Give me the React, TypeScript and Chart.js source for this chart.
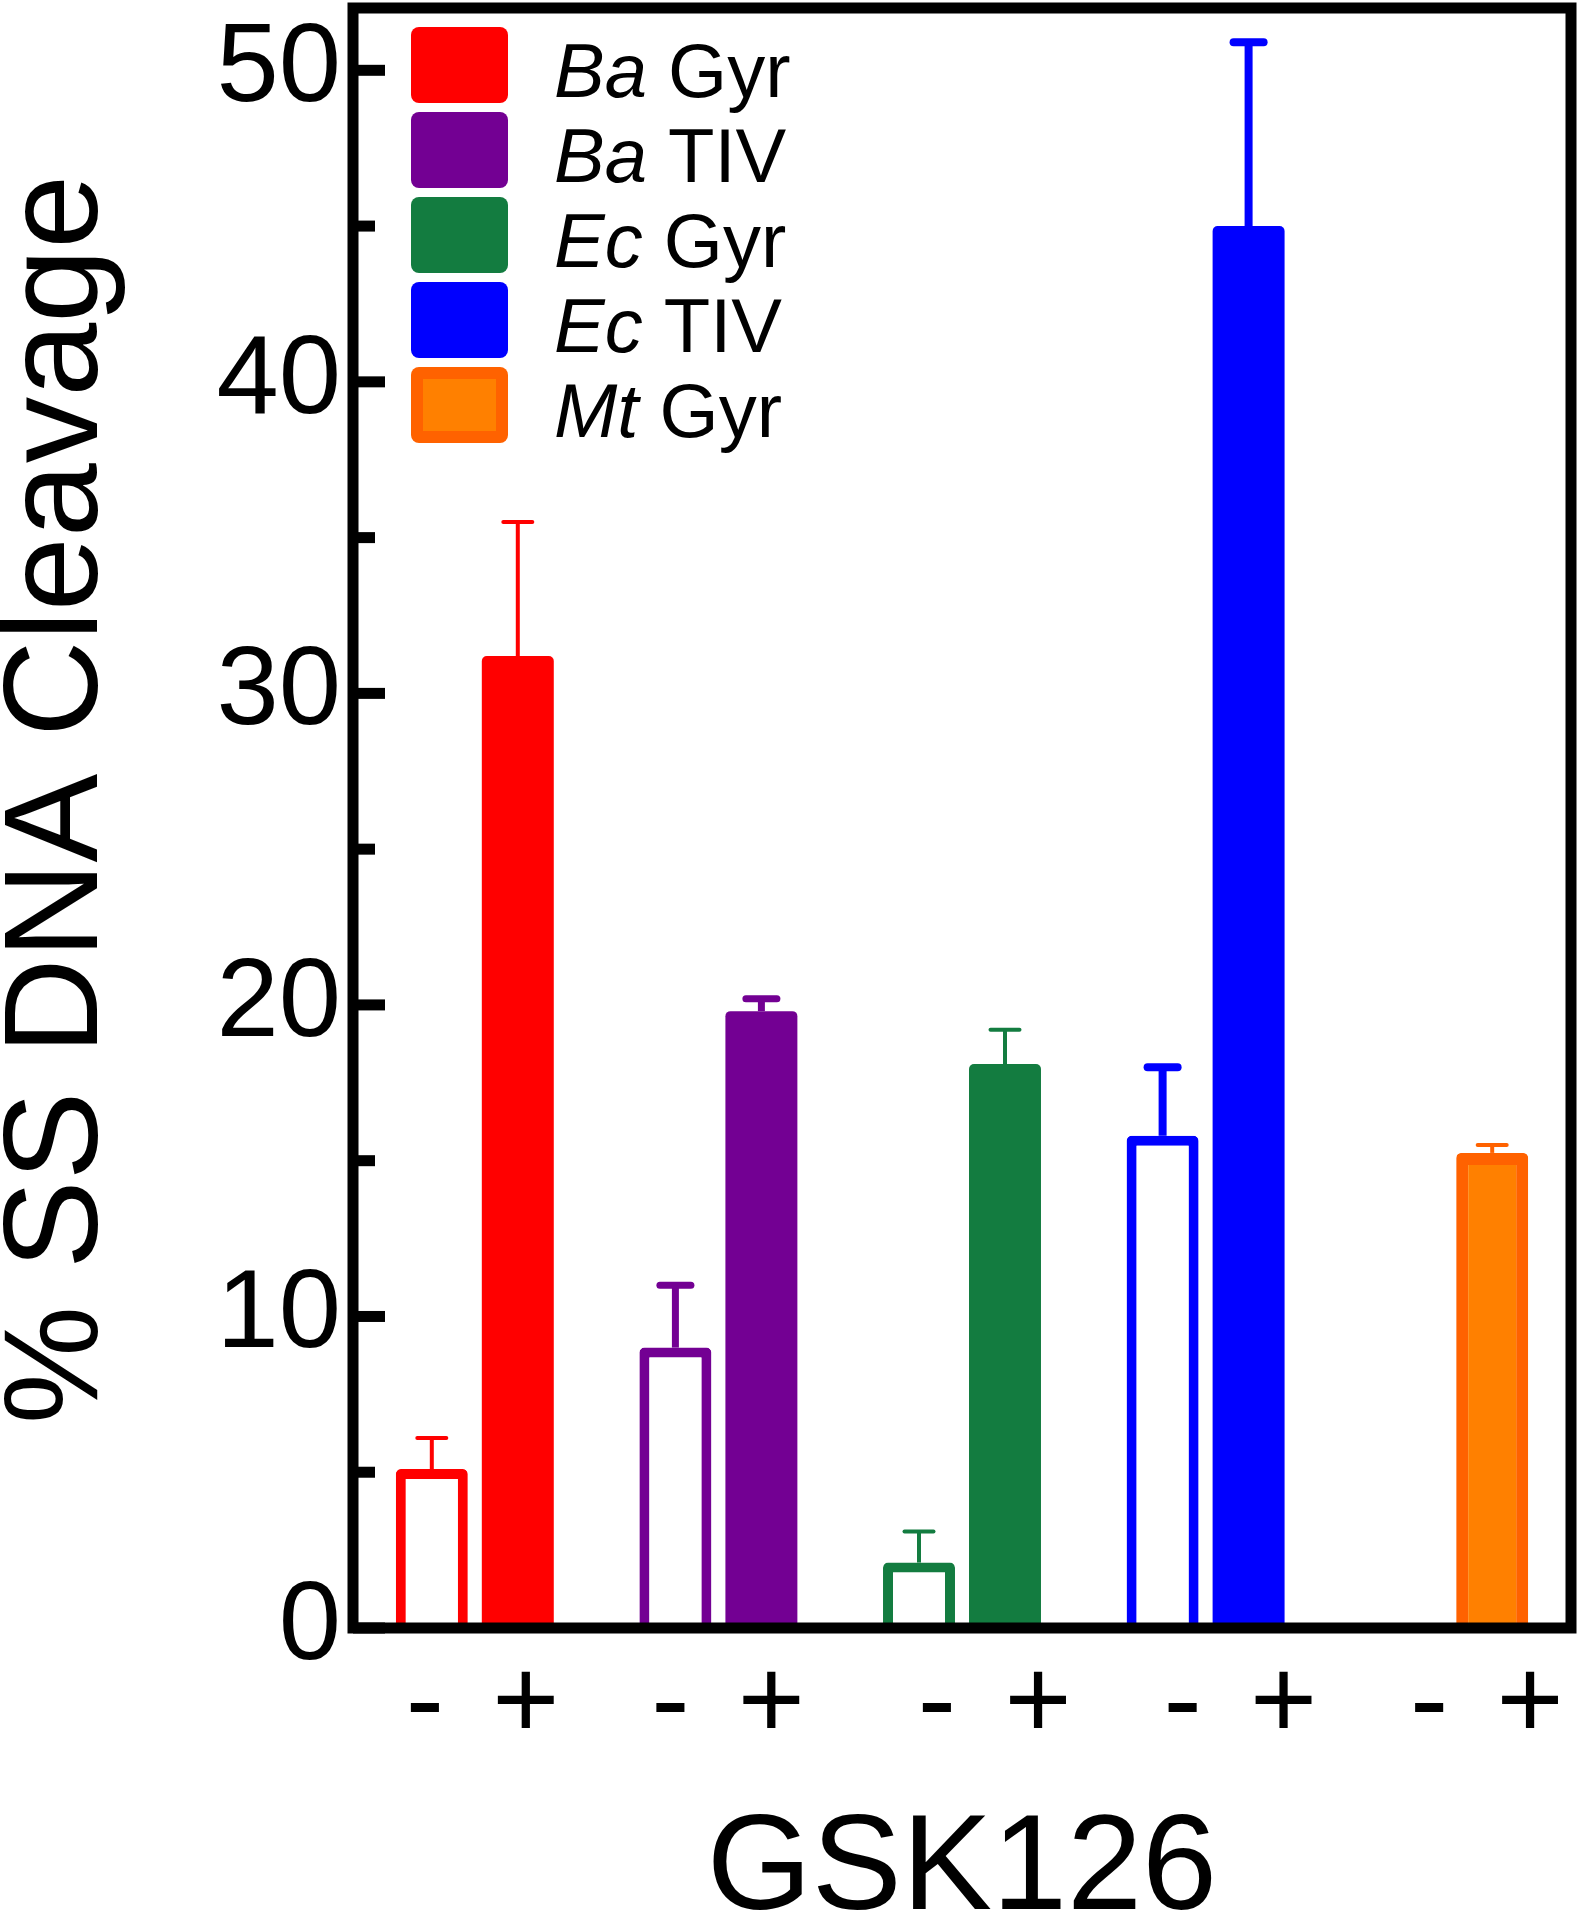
import React, { useEffect, useRef } from 'react';
import { Chart, registerables } from 'chart.js';

Chart.register(...registerables);

// ---------- data ----------
const categories = ['Ba Gyr', 'Ba TIV', 'Ec Gyr', 'Ec TIV', 'Mt Gyr'];
const speciesNames = ['Ba', 'Ba', 'Ec', 'Ec', 'Mt'];
const enzymeNames = ['Gyr', 'TIV', 'Gyr', 'TIV', 'Gyr'];
const minusValues: (number | null)[] = [5.1, 9.0, 2.1, 15.8, null];
const minusErrors: (number | null)[] = [1.0, 2.0, 1.0, 2.2, null];
const plusValues: (number | null)[] = [31.2, 19.8, 18.1, 45.0, 15.25];
const plusErrors: (number | null)[] = [4.3, 0.4, 1.1, 5.9, 0.25];
const signLabels = ['-', '+'];
const yMin = 0;
const yMax = 52;
const yStep = 5;
const yLabelEvery = 10;
const xTitle = 'GSK126';
const yTitle = ' % SS DNA Cleavage';

// ---------- styles ----------
const FONT = '"Liberation Sans", Arial, Helvetica, sans-serif';
const seriesColors = ['#FF0000', '#730093', '#137C40', '#0000FF', '#FF8000'];
const seriesEdges = ['#FF0000', '#730093', '#137C40', '#0000FF', '#FF6200'];
const plusBorderWidths = [0, 0, 0, 0, 12];
const errorLineWidths = [4, 7, 4, 8, 4];
const errorCapWidths = [33, 38, 33, 38, 33];
const signNudge = [0, 2, 25, 27, 30];

const errorBarPlugin = {
  id: 'errorBars',
  afterDatasetsDraw(chart: any) {
    const { ctx } = chart;
    const yScale = chart.scales.y;
    const vals = [minusValues, plusValues];
    const errs = [minusErrors, plusErrors];
    ctx.save();
    chart.data.datasets.forEach((_: any, di: number) => {
      const meta = chart.getDatasetMeta(di);
      meta.data.forEach((bar: any, i: number) => {
        const v = vals[di][i];
        const e = errs[di][i];
        if (v == null || e == null) return;
        const x = bar.x;
        const yTop = yScale.getPixelForValue(v);
        const yErr = yScale.getPixelForValue(v + e);
        const lw = errorLineWidths[i];
        ctx.strokeStyle = seriesEdges[i];
        ctx.lineWidth = lw;
        ctx.lineCap = 'butt';
        ctx.beginPath();
        ctx.moveTo(x, yTop);
        ctx.lineTo(x, yErr);
        ctx.stroke();
        ctx.lineCap = 'round';
        const half = (errorCapWidths[i] - lw) / 2;
        ctx.beginPath();
        ctx.moveTo(x - half, yErr);
        ctx.lineTo(x + half, yErr);
        ctx.stroke();
      });
    });
    ctx.restore();
  },
};

const framePlugin = {
  id: 'frame',
  afterDatasetsDraw(chart: any) {
    const { ctx, chartArea } = chart;
    const { left, right, top, bottom } = chartArea;
    const yScale = chart.scales.y;
    ctx.save();
    ctx.strokeStyle = '#000';
    ctx.lineWidth = 11;
    ctx.lineJoin = 'miter';
    ctx.strokeRect(left, top, right - left, bottom - top);
    ctx.lineCap = 'butt';
    yScale.ticks.forEach((t: any) => {
      const py = yScale.getPixelForValue(t.value);
      const len = t.value % yLabelEvery === 0 ? 32 : 22;
      ctx.beginPath();
      ctx.moveTo(left, py);
      ctx.lineTo(left + len, py);
      ctx.stroke();
    });
    ctx.restore();
  },
};

const signLabelPlugin = {
  id: 'signLabels',
  afterDraw(chart: any) {
    const { ctx, chartArea } = chart;
    const xScale = chart.scales.x;
    ctx.save();
    ctx.fillStyle = '#000';
    ctx.font = `115px ${FONT}`;
    ctx.textAlign = 'center';
    ctx.textBaseline = 'middle';
    const y = chartArea.bottom + 78;
    categories.forEach((_, i) => {
      const cx = xScale.getPixelForValue(i) + signNudge[i];
      ctx.fillText(signLabels[0], cx - 50, y);
      ctx.fillText(signLabels[1], cx + 51, y);
    });
    ctx.restore();
  },
};

const legendPlugin = {
  id: 'customLegend',
  afterDraw(chart: any) {
    const { ctx, chartArea } = chart;
    const boxX = chartArea.left + 58;
    const boxW = 97;
    const boxH = 76;
    const pitch = 85;
    const top0 = chartArea.top + 19;
    const textX = chartArea.left + 201;
    ctx.save();
    categories.forEach((_, i) => {
      const by = top0 + i * pitch;
      ctx.fillStyle = seriesEdges[i];
      ctx.beginPath();
      ctx.roundRect(boxX, by, boxW, boxH, 8);
      ctx.fill();
      if (seriesEdges[i] !== seriesColors[i]) {
        ctx.fillStyle = seriesColors[i];
        ctx.fillRect(boxX + 12, by + 12, boxW - 24, boxH - 24);
      }
      ctx.fillStyle = '#000';
      ctx.textAlign = 'left';
      ctx.textBaseline = 'alphabetic';
      ctx.font = `italic 76px ${FONT}`;
      ctx.fillText(speciesNames[i], textX, by + 70);
      const w = ctx.measureText(speciesNames[i] + ' ').width;
      ctx.font = `76px ${FONT}`;
      ctx.fillText(enzymeNames[i], textX + w, by + 70);
    });
    ctx.restore();
  },
};

export default function App() {
  const canvasRef = useRef<HTMLCanvasElement | null>(null);

  useEffect(() => {
    if (!canvasRef.current) return;
    Chart.defaults.font.family = FONT;
    Chart.defaults.color = '#000';
    const chart = new Chart(canvasRef.current, {
      type: 'bar',
      data: {
        labels: categories,
        datasets: [
          {
            label: 'without GSK126',
            data: minusValues,
            backgroundColor: '#FFFFFF',
            borderColor: seriesColors,
            borderWidth: 10,
            borderRadius: 5,
            borderSkipped: 'start',
          },
          {
            label: 'with GSK126',
            data: plusValues,
            backgroundColor: seriesColors,
            borderColor: seriesEdges,
            borderWidth: plusBorderWidths,
            borderRadius: 5,
            borderSkipped: 'start',
          },
        ],
      } as any,
      options: {
        animation: false,
        responsive: true,
        maintainAspectRatio: false,
        layout: { padding: { top: 8, right: 8, left: 0, bottom: 0 } },
        datasets: { bar: { categoryPercentage: 0.706, barPercentage: 0.837 } },
        plugins: { legend: { display: false }, tooltip: { enabled: false } },
        scales: {
          x: {
            type: 'category',
            grid: { display: false, drawTicks: false },
            border: { display: false },
            ticks: { display: false },
            title: {
              display: true,
              text: xTitle,
              color: '#000',
              font: { size: 135, family: FONT, lineHeight: 0.72 },
              padding: { top: 0, bottom: 0 },
            },
            afterFit(scale: any) {
              scale.height = 292;
              scale.paddingLeft = 0;
              scale.paddingRight = 0;
            },
          },
          y: {
            min: yMin,
            max: yMax,
            grid: { display: false, drawTicks: false },
            border: { display: false },
            ticks: {
              stepSize: yStep,
              includeBounds: false,
              padding: 12,
              color: '#000',
              font: { size: 112, family: FONT },
              callback: (v: any) => (Number(v) % yLabelEvery === 0 ? String(v) : ''),
            },
            title: {
              display: true,
              text: yTitle,
              color: '#000',
              font: { size: 133, family: FONT, lineHeight: 0.9 },
              padding: { top: 0, bottom: 0 },
            },
            afterFit(scale: any) {
              scale.width = 353;
              scale.paddingTop = 0;
              scale.paddingBottom = 0;
            },
          },
        },
      } as any,
      plugins: [errorBarPlugin, framePlugin, signLabelPlugin, legendPlugin],
    });
    return () => chart.destroy();
  }, []);

  return (
    <div style={{ position: 'absolute', left: 0, top: 0, width: 1579, height: 1920, background: '#fff' }}>
      <canvas ref={canvasRef} style={{ display: 'block' }} />
    </div>
  );
}
